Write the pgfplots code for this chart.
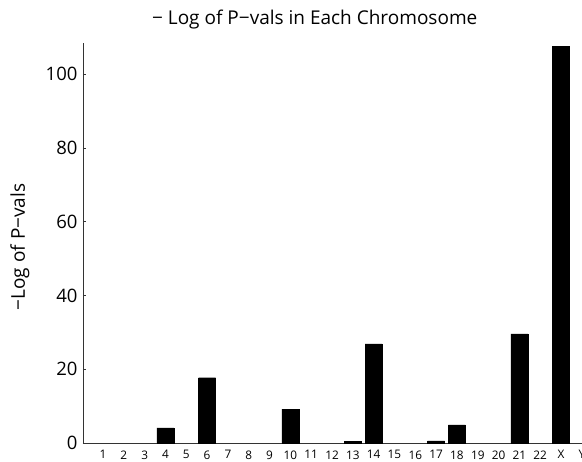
\documentclass[border=0pt]{standalone}
\usepackage{pgfplots}
\pgfplotsset{compat=1.18}
\usepackage{fontspec}
\setmainfont{Open Sans}
\begin{document}
\begin{tikzpicture}
\begin{axis}[
  scale only axis,
  width=509.3pt, height=400pt,
  xmin=0.04, xmax=24.5,
  ymin=0, ymax=108.5,
  axis x line=bottom, axis y line=left,
  axis line style={-, line width=0.8pt, black!80},
  xtick={1,...,24},
  xticklabels={1,2,3,4,5,6,7,8,9,10,11,12,13,14,15,16,17,18,19,20,21,22,X,Y},
  ytick={0,20,40,60,80,100},
  tick align=inside,
  ytick style={line width=0.8pt, black!80},
  major tick length=3pt,
  xtick style={draw=none},
  xticklabel style={font=\fontsize{11.8}{13}\selectfont, yshift=-4pt},
  yticklabel style={font=\fontsize{18.5}{20}\selectfont, xshift=-2pt},
  /pgf/number format/assume math mode=true,
  ylabel={−Log of P−vals},
  ylabel style={font=\fontsize{19}{21}\selectfont, at={(axis description cs:-0.1237,0.49)}, anchor=center},
  title={− Log of P−vals in Each Chromosome},
  title style={font=\fontsize{19}{21}\selectfont, at={(axis description cs:0.455,1)}, anchor=base, yshift=12pt},
  clip=false,
]
\addplot[ybar, bar width=17pt, fill=black, draw=black] coordinates {
 (4,4.1) (6,17.7) (10,9.2)
 (13,0.5) (14,26.9) (17,0.6) (18,4.9)
 (21,29.6) (23,107.6)
};
\end{axis}
\pgfresetboundingbox
\useasboundingbox (-83pt,-19pt) rectangle (499pt,443pt);
\end{tikzpicture}
\end{document}
